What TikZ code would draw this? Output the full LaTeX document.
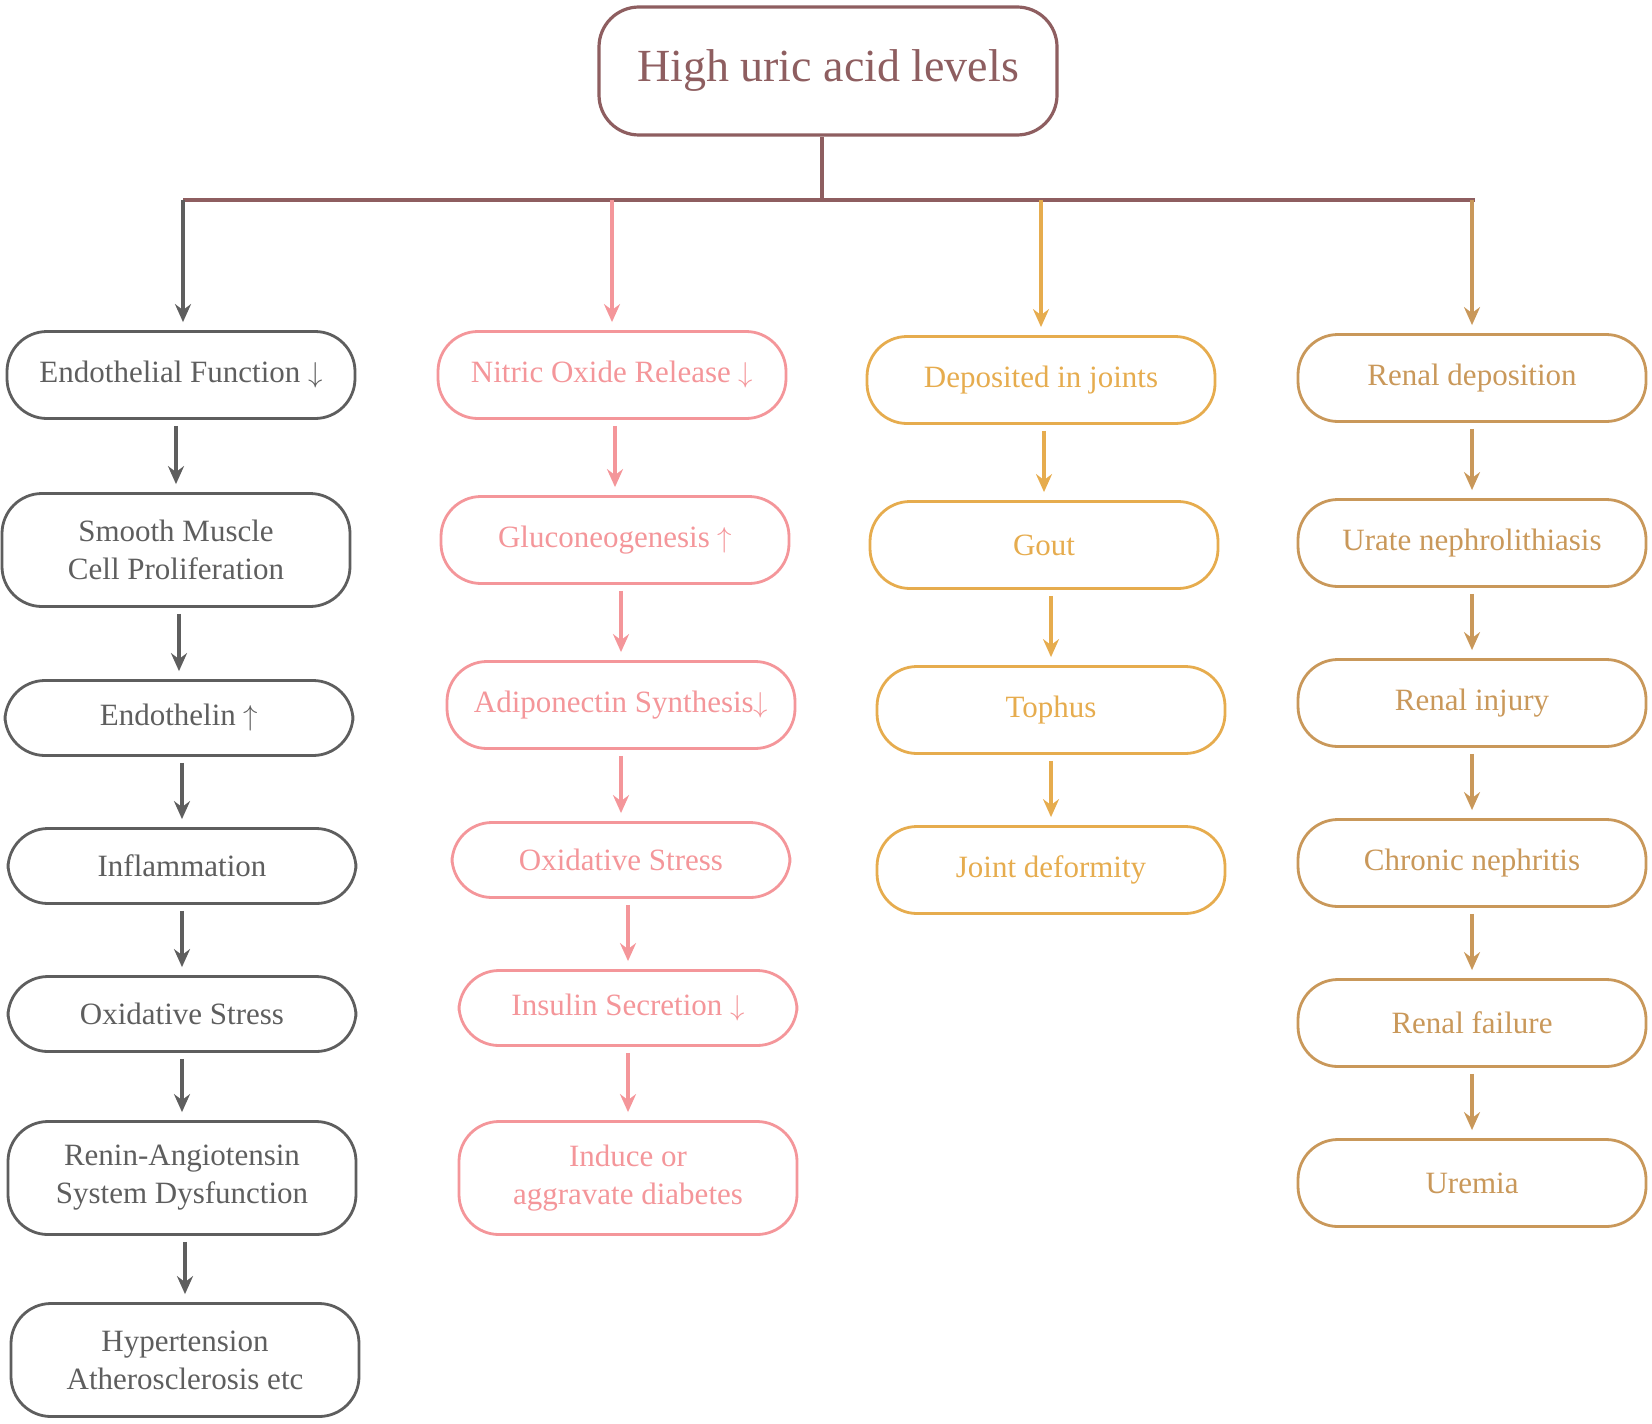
\documentclass[tikz,border=0pt]{standalone}
\usepackage{fontspec}
\setmainfont{Liberation Serif}
\usetikzlibrary{arrows.meta}
\definecolor{cTitle}{HTML}{8E5E60}
\definecolor{cGray}{HTML}{5E5E5E}
\definecolor{cPink}{HTML}{F4969A}
\definecolor{cOrange}{HTML}{E6AC4E}
\definecolor{cTan}{HTML}{C9985A}
\begin{document}
\begin{tikzpicture}[x=0.5pt,y=-0.5pt,
  box/.style={draw, line width=1.4pt, rounded corners=20pt, minimum width=174pt,
    minimum height=43.5pt, align=center, font=\fontsize{15.5}{19}\selectfont, inner sep=2pt},
  tall/.style={minimum height=56.5pt},
  gbox/.style={box, draw=cGray, text=cGray},
  pbox/.style={box, draw=cPink, text=cPink},
  obox/.style={box, draw=cOrange, text=cOrange},
  tbox/.style={box, draw=cTan, text=cTan},
  arr/.style={-{Stealth[length=9pt,width=8pt,inset=3pt]}, line width=1.6pt, shorten <=3pt, shorten >=4pt}]
\useasboundingbox (0,0) rectangle (1652,1423);
% title and bracket
\node[draw=cTitle, text=cTitle, line width=1.6pt, rounded corners=20pt, minimum width=229pt,
  minimum height=64pt, font=\fontsize{23}{27}\selectfont] (top) at (828,71) {High uric acid levels};
\coordinate (hl) at (183,200);
\coordinate (hr) at (1475,200);
\coordinate (hm) at (822,200);
\draw[cTitle, line width=2pt] (top.south -| hm) -- (hm);
\draw[cTitle, line width=2pt] (hl) -- (hr);
% column 1
\node[gbox] (g1) at (181,375) {Endothelial Function $\downarrow$};
\node[gbox,tall] (g2) at (176,550) {Smooth Muscle\\Cell Proliferation};
\node[gbox,minimum height=37.5pt] (g3) at (179,718) {Endothelin $\uparrow$};
\node[gbox,minimum height=37.5pt] (g4) at (182,866) {Inflammation};
\node[gbox,minimum height=37.5pt] (g5) at (182,1014) {Oxidative Stress};
\node[gbox,tall] (g6) at (182,1178) {Renin-Angiotensin\\System Dysfunction};
\node[gbox,tall] (g7) at (185,1360) {Hypertension\\Atherosclerosis etc};
% column 2
\node[pbox] (p1) at (612,375) {Nitric Oxide Release $\downarrow$};
\node[pbox] (p2) at (615,540) {Gluconeogenesis $\uparrow$};
\node[pbox] (p3) at (621,705) {Adiponectin Synthesis$\downarrow$};
\node[pbox,minimum width=169pt,minimum height=37.5pt] (p4) at (621,860) {Oxidative Stress};
\node[pbox,minimum width=169pt,minimum height=37.5pt] (p5) at (628,1008) {Insulin Secretion $\downarrow$};
\node[pbox,minimum width=169pt,tall] (p6) at (628,1178) {Induce or\\aggravate diabetes};
% column 3
\node[obox] (o1) at (1041,380) {Deposited in joints};
\node[obox] (o2) at (1044,545) {Gout};
\node[obox] (o3) at (1051,710) {Tophus};
\node[obox] (o4) at (1051,870) {Joint deformity};
% column 4
\node[tbox] (t1) at (1472,378) {Renal deposition};
\node[tbox] (t2) at (1472,543) {Urate nephrolithiasis};
\node[tbox] (t3) at (1472,703) {Renal injury};
\node[tbox] (t4) at (1472,863) {Chronic nephritis};
\node[tbox] (t5) at (1472,1023) {Renal failure};
\node[tbox] (t6) at (1472,1183) {Uremia};
% branches
\draw[arr, cGray, shorten <=0pt] (hl) -- (hl |- g1.north);
\draw[arr, cPink, shorten <=0pt] (p1.north |- hl) -- (p1.north);
\draw[arr, cOrange, shorten <=0pt] (o1.north |- hl) -- (o1.north);
\draw[arr, cTan, shorten <=0pt] (t1.north |- hl) -- (t1.north);
% chains
\foreach \a/\b in {g1/g2,g2/g3,g3/g4,g4/g5,g5/g6,g6/g7}
  \draw[arr, cGray] (\b.north |- \a.south) -- (\b.north);
\foreach \a/\b in {p1/p2,p2/p3,p3/p4,p4/p5,p5/p6}
  \draw[arr, cPink] (\b.north |- \a.south) -- (\b.north);
\foreach \a/\b in {o1/o2,o2/o3,o3/o4}
  \draw[arr, cOrange] (\b.north |- \a.south) -- (\b.north);
\foreach \a/\b in {t1/t2,t2/t3,t3/t4,t4/t5,t5/t6}
  \draw[arr, cTan] (\b.north |- \a.south) -- (\b.north);
\end{tikzpicture}
\end{document}
